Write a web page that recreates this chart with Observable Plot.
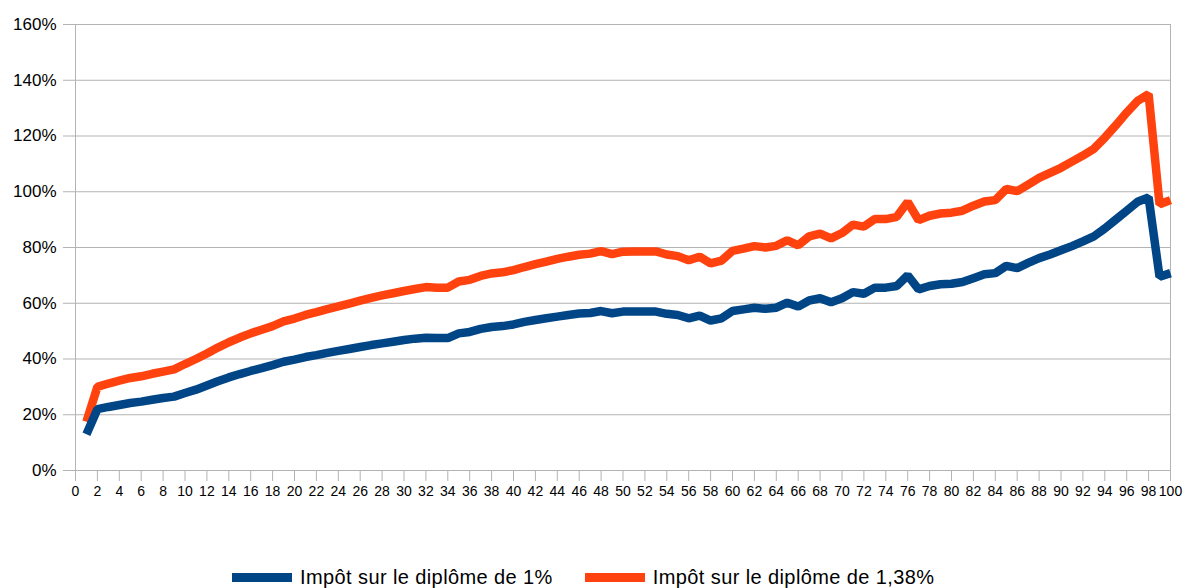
<!DOCTYPE html>
<html>
<head>
<meta charset="utf-8">
<script src="https://cdn.jsdelivr.net/npm/d3@7"></script>
<script src="https://cdn.jsdelivr.net/npm/@observablehq/plot@0.6"></script>
<style>
  html, body { margin: 0; padding: 0; background: #fff; }
  #wrap { position: relative; width: 1185px; height: 588px; overflow: hidden; font-family: "Liberation Sans", Arial, sans-serif; }
  #legend { position: absolute; left: 232px; top: 567px; display: flex; align-items: center; font-size: 20px; letter-spacing: 0.4px; line-height: 1; color: #000; white-space: nowrap; }
  .sw { display: inline-block; width: 60px; height: 9px; margin-right: 8px; }
  .item { display: flex; align-items: center; margin-right: 32px; }
</style>
</head>
<body>
<div id="wrap"></div>
<script>
// Categories (percentile 1..100)
const categories = d3.range(1, 101);

// Series: "Impôt sur le diplôme de 1%" (values in %)
const blueValues = [
  13, 22, 22.8, 23.5, 24.2, 24.7, 25.4, 26, 26.5, 27.8,
  29, 30.5, 32, 33.4, 34.6, 35.7, 36.7, 37.8, 39, 39.8,
  40.7, 41.4, 42.2, 42.9, 43.6, 44.3, 45, 45.6, 46.2, 46.8,
  47.3, 47.6, 47.5, 47.5, 49.2, 49.7, 50.8, 51.5, 51.8, 52.4,
  53.3, 54, 54.6, 55.2, 55.8, 56.3, 56.5, 57.2, 56.4, 57,
  57, 57, 57, 56.2, 55.8, 54.6, 55.6, 53.8, 54.6, 57.2,
  57.8, 58.4, 58, 58.4, 60.2, 58.8, 61, 61.8, 60.4, 61.8,
  64, 63.4, 65.6, 65.6, 66.2, 70, 65, 66.2, 66.8, 67,
  67.6, 69, 70.4, 70.8, 73.4, 72.6, 74.5, 76.2, 77.5, 79,
  80.5, 82.2, 84, 86.8, 90, 93.2, 96.4, 98, 69.5, 70.8
];

// Series: "Impôt sur le diplôme de 1,38%" (values in %)
const orangeValues = [
  17.5, 30, 31.2, 32.2, 33.2, 33.8, 34.7, 35.5, 36.3, 38.2,
  40, 42, 44.1, 46, 47.7, 49.2, 50.5, 51.8, 53.5, 54.5,
  55.8, 56.8, 57.9, 58.9, 59.9, 60.9, 61.9, 62.8, 63.6, 64.4,
  65.1, 65.8, 65.6, 65.6, 67.8, 68.4, 69.8, 70.7, 71.1, 71.9,
  73, 74, 74.9, 75.9, 76.7, 77.4, 77.8, 78.7, 77.6, 78.5,
  78.6, 78.6, 78.6, 77.5, 76.9, 75.4, 76.7, 74.3, 75.3, 78.8,
  79.6, 80.5, 80, 80.6, 82.6, 80.8, 84, 85, 83.3, 85.2,
  88.2, 87.5, 90.2, 90.2, 91, 96.3, 89.8, 91.4, 92.2, 92.5,
  93.2, 95, 96.5, 97, 101, 100.2, 102.6, 105, 106.8, 108.6,
  110.8, 113, 115.4, 119.4, 123.8, 128.4, 132.6, 135, 95.5, 97
];

const seriesNames = ["Impôt sur le diplôme de 1%", "Impôt sur le diplôme de 1,38%"];
const seriesColors = ["#004586", "#ff420e"];

// Tick labels
const yTicks = [0, 20, 40, 60, 80, 100, 120, 140, 160];
const xTicks = d3.range(0, 101, 2);

const blueData = categories.map((c, i) => ({x: c, y: blueValues[i]}));
const orangeData = categories.map((c, i) => ({x: c, y: orangeValues[i]}));

const chart = Plot.plot({
  width: 1185,
  height: 510,
  marginTop: 24,
  marginBottom: 40,
  marginLeft: 75,
  marginRight: 15,
  style: {fontFamily: "Liberation Sans, Arial, sans-serif", color: "#000", background: "#fff"},
  x: {domain: [0, 100]},
  y: {domain: [0, 160]},
  marks: [
    Plot.gridY(yTicks, {stroke: "#b3b3b3", strokeOpacity: 1, strokeWidth: 1}),
    Plot.ruleX([0, 100], {stroke: "#b3b3b3", strokeWidth: 1}),
    Plot.axisY(yTicks, {
      tickSize: 12, tickPadding: 7, stroke: "#b3b3b3", strokeOpacity: 1,
      tickFormat: d => d + "%", fontSize: 17, fill: "#000", label: null
    }),
    Plot.axisX(xTicks, {
      tickSize: 11, tickPadding: 5, stroke: "#b3b3b3", strokeOpacity: 1,
      tickFormat: d => String(d), fontSize: 14, fill: "#000", label: null
    }),
    Plot.line(orangeData, {x: "x", y: "y", stroke: seriesColors[1], strokeWidth: 8.5, strokeLinejoin: "miter", strokeLinecap: "butt"}),
    Plot.line(blueData, {x: "x", y: "y", stroke: seriesColors[0], strokeWidth: 8.5, strokeLinejoin: "miter", strokeLinecap: "butt"})
  ]
});

const wrap = document.getElementById("wrap");
wrap.appendChild(chart);

const legend = document.createElement("div");
legend.id = "legend";
seriesNames.forEach((name, i) => {
  const item = document.createElement("span");
  item.className = "item";
  const sw = document.createElement("span");
  sw.className = "sw";
  sw.style.background = seriesColors[i];
  const label = document.createElement("span");
  label.textContent = name;
  item.appendChild(sw);
  item.appendChild(label);
  legend.appendChild(item);
});
wrap.appendChild(legend);
</script>
</body>
</html>
